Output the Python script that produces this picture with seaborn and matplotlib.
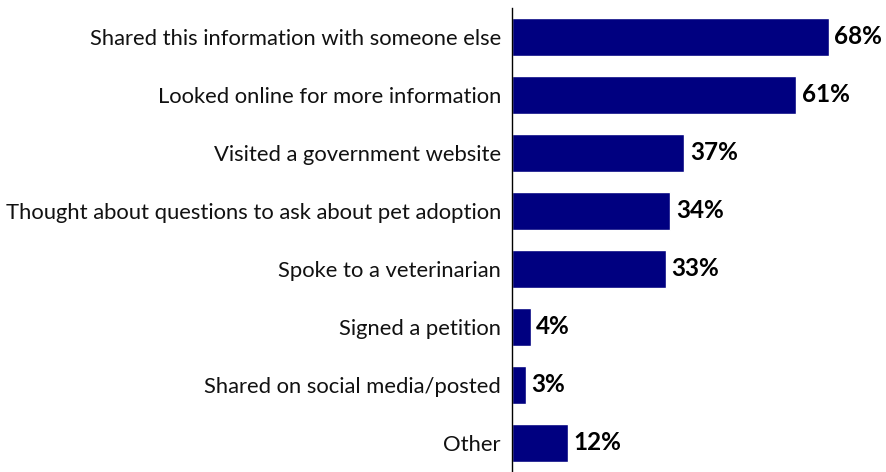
import matplotlib
matplotlib.use("Agg")
import matplotlib.pyplot as plt
import seaborn as sns
import pandas as pd

# Data
actions = [
    "Shared this information with someone else",
    "Looked online for more information",
    "Visited a government website",
    "Thought about questions to ask about pet adoption",
    "Spoke to a veterinarian",
    "Signed a petition",
    "Shared on social media/posted",
    "Other",
]
percent = [68, 61, 37, 34, 33, 4, 3, 12]

df = pd.DataFrame({"action": actions, "percent": percent})

sns.set_style("white")
plt.rcParams["font.family"] = ["Lato", "DejaVu Sans"]

fig = plt.figure(figsize=(8.86, 4.72), dpi=100)
ax = fig.add_axes([512 / 886, 0.0, 1 - 512 / 886, 464 / 472])

sns.barplot(data=df, x="percent", y="action", color="#000080",
            saturation=1, width=0.65, ax=ax)

for i, v in enumerate(percent):
    ax.text(v + 1.2, i, f"{v}%", va="center", ha="left",
            fontsize=17.5, fontweight="bold", color="black")

ax.set_xlim(0, 80.3)
ax.set_ylim(7.5, -0.5)
ax.set_xlabel("")
ax.set_ylabel("")
ax.set_xticks([])
ax.tick_params(axis="y", length=0, pad=8, labelsize=15.8, labelcolor="#111111")
for s in ["top", "right", "bottom"]:
    ax.spines[s].set_visible(False)
ax.spines["left"].set_color("black")
ax.spines["left"].set_linewidth(1)

fig.savefig("out.png", dpi=100)
